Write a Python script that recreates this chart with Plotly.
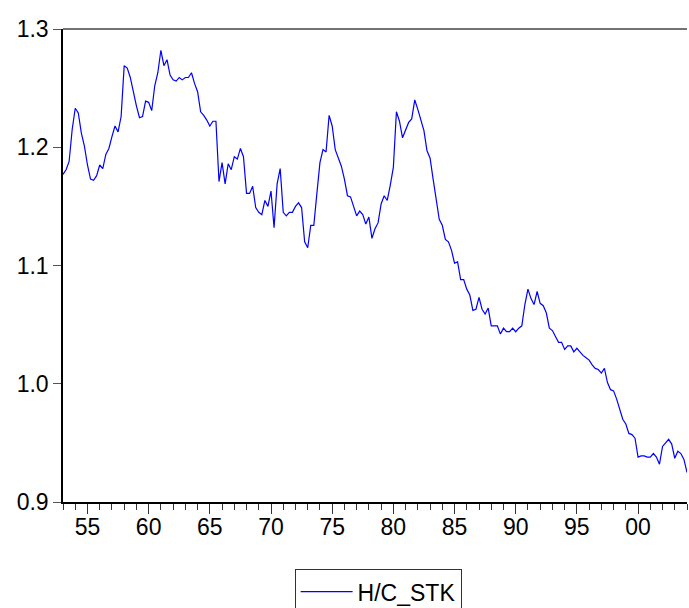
import plotly.graph_objects as go

# Quarterly series H/C_STK, 1953Q1 - 2004Q1
start_year = 1953
series_name = "H/C_STK"
hc_stk = [
    1.177, 1.181, 1.188, 1.215, 1.233, 1.229, 1.212, 1.201, 1.185, 1.173,
    1.172, 1.176, 1.185, 1.182, 1.194, 1.199, 1.209, 1.218, 1.213, 1.226,
    1.269, 1.267, 1.259, 1.246, 1.235, 1.225, 1.226, 1.239, 1.238, 1.231,
    1.252, 1.263, 1.282, 1.269, 1.274, 1.261, 1.257, 1.256, 1.259, 1.257,
    1.259, 1.259, 1.263, 1.254, 1.247, 1.230, 1.227, 1.223, 1.218, 1.222,
    1.222, 1.171, 1.187, 1.169, 1.186, 1.181, 1.192, 1.190, 1.199, 1.192,
    1.161, 1.161, 1.167, 1.149, 1.145, 1.143, 1.155, 1.150, 1.163, 1.132,
    1.169, 1.182, 1.145, 1.142, 1.145, 1.145, 1.150, 1.153, 1.149, 1.120,
    1.115, 1.134, 1.134, 1.161, 1.187, 1.198, 1.196, 1.227, 1.218, 1.198,
    1.191, 1.184, 1.173, 1.159, 1.158, 1.150, 1.142, 1.146, 1.143, 1.135,
    1.141, 1.123, 1.131, 1.136, 1.152, 1.159, 1.155, 1.168, 1.183, 1.230,
    1.222, 1.208, 1.214, 1.221, 1.224, 1.240, 1.232, 1.222, 1.214, 1.197,
    1.191, 1.173, 1.156, 1.139, 1.134, 1.122, 1.120, 1.113, 1.102, 1.103,
    1.088, 1.088, 1.080, 1.075, 1.062, 1.063, 1.073, 1.063, 1.059, 1.064,
    1.049, 1.049, 1.049, 1.042, 1.047, 1.044, 1.044, 1.047, 1.044, 1.047,
    1.049, 1.067, 1.080, 1.072, 1.067, 1.078, 1.068, 1.066, 1.060, 1.047,
    1.045, 1.040, 1.035, 1.035, 1.029, 1.032, 1.032, 1.027, 1.030, 1.027,
    1.024, 1.022, 1.020, 1.016, 1.013, 1.012, 1.009, 1.013, 1.001, 0.995,
    0.994, 0.987, 0.978, 0.970, 0.966, 0.958, 0.957, 0.954, 0.938, 0.939,
    0.939, 0.938, 0.938, 0.941, 0.938, 0.932, 0.947, 0.950, 0.953, 0.949,
    0.937, 0.943, 0.941, 0.936, 0.925,
]
x_tick_years = [1955, 1960, 1965, 1970, 1975, 1980, 1985, 1990, 1995, 2000]
x_tick_labels = ["55", "60", "65", "70", "75", "80", "85", "90", "95", "00"]
y_tick_vals = [0.9, 1.0, 1.1, 1.2, 1.3]
y_tick_labels = ["0.9", "1.0", "1.1", "1.2", "1.3"]

dates = [start_year + i / 4 for i in range(len(hc_stk))]

font_family = "Liberation Sans, Arial, sans-serif"

fig = go.Figure()
fig.add_trace(go.Scatter(
    x=dates, y=hc_stk, mode="lines", name=series_name,
    line=dict(color="#0000FF", width=1.2),
))

fig.update_layout(
    width=689, height=608,
    margin=dict(l=63, r=2, t=29, b=106, autoexpand=False),
    paper_bgcolor="white", plot_bgcolor="white",
    font=dict(family=font_family, size=23, color="black"),
    showlegend=True,
    legend=dict(
        orientation="h", x=0.505, xanchor="center",
        yref="container", y=0.064, yanchor="top",
        bordercolor="#333333", borderwidth=1, bgcolor="white",
        itemwidth=52,
        font=dict(size=23, family=font_family),
    ),
    xaxis=dict(
        range=[start_year, dates[-1]],
        tickmode="array", tickvals=x_tick_years, ticktext=x_tick_labels,
        ticks="outside", ticklen=10, tickcolor="#333333", tickwidth=1,
        ticklabelstandoff=-6,
        showline=True, linecolor="black", linewidth=1.5,
        showgrid=False, zeroline=False,
        minor=dict(tickmode="linear", tick0=start_year, dtick=1,
                   ticks="outside", ticklen=6, tickcolor="#333333", showgrid=False),
    ),
    yaxis=dict(
        range=[0.9, 1.3],
        tickmode="array", tickvals=y_tick_vals, ticktext=y_tick_labels,
        ticks="outside", ticklen=8, tickcolor="#555555",
        showline=True, linecolor="black", linewidth=1.5,
        showgrid=False, zeroline=False,
    ),
    shapes=[dict(type="line", xref="paper", yref="paper", x0=0, x1=1, y0=1, y1=1,
                 line=dict(color="#444444", width=1.5))],
)

fig.write_html("out.html")
